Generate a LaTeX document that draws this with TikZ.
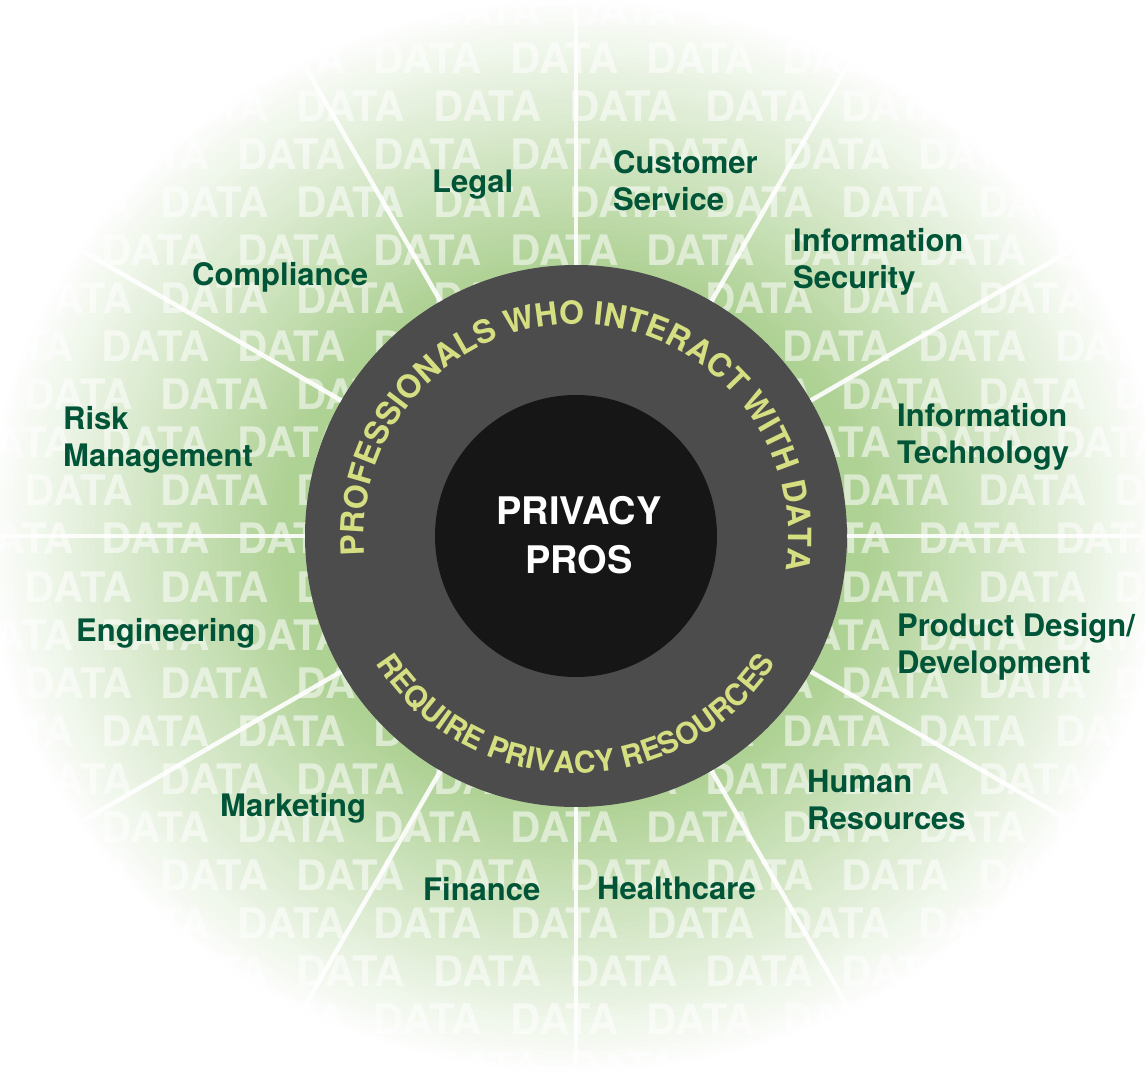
\documentclass[tikz,border=0pt]{standalone}
\usepackage{fontspec}
\setmainfont{TeX Gyre Heros}
\usetikzlibrary{decorations.text,calc}
\definecolor{bggreen}{RGB}{174,209,148}
\definecolor{labelgreen}{RGB}{0,84,56}
\definecolor{ringgray}{RGB}{76,76,76}
\definecolor{corebl}{RGB}{22,22,22}
\definecolor{ringtext}{RGB}{214,222,130}
\newcommand\ringfontA{\fontsize{32}{32}\selectfont\bfseries\color{ringtext}}
\newcommand\ringfontB{\fontsize{30}{30}\selectfont\bfseries\color{ringtext}}
\newcommand\dataword{DATA\hspace{28pt}}
\newcommand\datarowtext{\dataword\dataword\dataword\dataword\dataword\dataword\dataword\dataword\dataword\dataword}
\begin{document}
\begin{tikzpicture}[x=1pt,y=1pt,
  deptlabel/.style={anchor=north west, inner sep=0pt, align=left, text=labelgreen,
    font=\fontsize{31}{37}\selectfont\bfseries},
  datarow/.style={anchor=base west, inner sep=0pt, text=white, text opacity=0.55,
    font=\fontsize{42}{42}\selectfont\bfseries},
  spoke/.style={white, line width=4.5pt, opacity=0.9},
  disc/.style={circle, inner sep=0pt}
]
\useasboundingbox (0,0) rectangle (1145,1080);
\clip (0,0) rectangle (1145,1080);
\fill[white] (0,0) rectangle (1145,1080);
\coordinate (C) at (576,544);
% radial green glow (slightly wider than tall)
\foreach \r in {595,589,...,290} {
  \pgfmathsetmacro\p{min(100,(595-\r)/3.0)}
  \pgfmathsetmacro\ry{0.91*\r}
  \fill[bggreen!\p!white] (C) ellipse [x radius=\r, y radius=\ry];
}
% DATA texture
\foreach \i in {0,...,22} {
  \pgfmathsetmacro\yy{1080-(-4+48*\i)-30}
  \pgfmathsetmacro\xx{-112+77*mod(\i,2)}
  \node[datarow] (row\i) at (\xx,\yy) {\datarowtext};
}
% ring and core
\node[disc, fill=ringgray, minimum size=542pt] (ring) at (C) {};
\foreach \a in {0,30,...,330} {
  \coordinate (far\a) at ($(C)+(\a:640)$);
  \draw[spoke] (ring.\a) -- (far\a);
}
\node[disc, fill=corebl, minimum size=282pt] (core) at (C) {};
\node[text=white, align=center, font=\fontsize{38}{49}\selectfont\bfseries] (pros) at (579,545) {PRIVACY\\PROS};
% ring texts
\path[decorate, decoration={text along path, text={|\ringfontA|PROFESSIONALS WHO INTERACT WITH DATA}, text align=center}]
  ($(C)+(190:212)$) arc[start angle=190, end angle=-14, radius=212];
\path[decorate, decoration={text along path, text={|\ringfontB|REQUIRE PRIVACY RESOURCES}, text align=center}]
  ($(C)+(200:237)$) arc[start angle=200, end angle=340, radius=237];
% department labels
\node[deptlabel] (legal) at (432,910) {Legal};
\node[deptlabel] (custserv) at (613,930) {Customer\\Service};
\node[deptlabel] (infosec) at (793,852) {Information\\Security};
\node[deptlabel] (infotech) at (897,677) {Information\\Technology};
\node[deptlabel] (product) at (897,467) {Product Design/\\Development};
\node[deptlabel] (hr) at (807,310) {Human\\Resources};
\node[deptlabel] (health) at (597,203) {Healthcare};
\node[deptlabel] (finance) at (423,203) {Finance};
\node[deptlabel] (marketing) at (220,287) {Marketing};
\node[deptlabel] (eng) at (76,462) {Engineering};
\node[deptlabel] (risk) at (63,674) {Risk\\Management};
\node[deptlabel] (compliance) at (192,818) {Compliance};
\end{tikzpicture}
\end{document}
